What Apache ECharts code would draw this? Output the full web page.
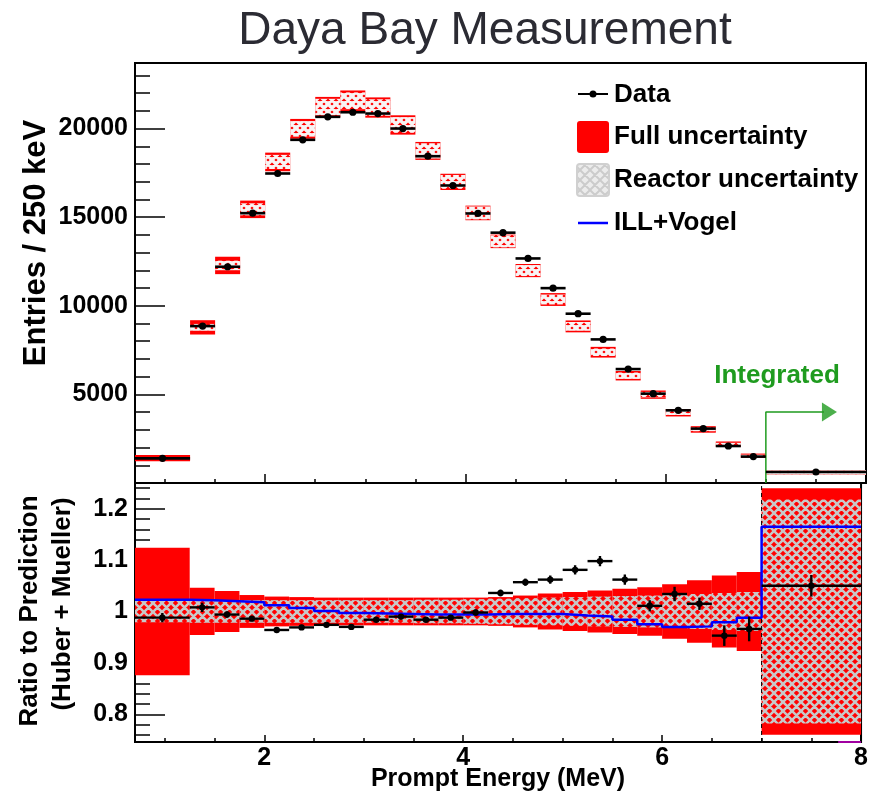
<!DOCTYPE html>
<html>
<head>
<meta charset="utf-8">
<script src="https://cdn.jsdelivr.net/npm/echarts@6/dist/echarts.min.js"></script>
<style>
html, body { margin: 0; padding: 0; background: #fff; }
#chart { width: 871px; height: 793px; }
</style>
</head>
<body>
<div id="chart"></div>
<script>
// bins (MeV): first bin 0.7-1.25, then 250 keV bins, last one integrated 7-8
var binEdges = [0.7, 1.25, 1.5, 1.75, 2.0, 2.25, 2.5, 2.75, 3.0, 3.25, 3.5, 3.75, 4.0, 4.25,
	4.5, 4.75, 5.0, 5.25, 5.5, 5.75, 6.0, 6.25, 6.5, 6.75, 7.0, 8.0];
// entries / 250 keV
var counts = [1390, 8853, 12203, 15226, 17465, 19365, 20662, 20921, 20848, 20002, 18440, 16788, 15209,
	14126, 12671, 10996, 9553, 8103, 6429, 5041, 4100, 3068, 2087, 1489, 620];
// data / prediction
var ratio = [0.988, 1.008, 0.994, 0.986, 0.964, 0.969, 0.974, 0.970, 0.984, 0.990, 0.984, 0.988, 0.998,
	1.036, 1.057, 1.062, 1.081, 1.098, 1.062, 1.011, 1.034, 1.015, 0.953, 0.966, 1.050];
var ratioErr = [0.009, 0.009, 0.006, 0.005, 0.005, 0.005, 0.005, 0.005, 0.005, 0.005, 0.005, 0.005, 0.006,
	0.0065, 0.007, 0.008, 0.009, 0.010, 0.010, 0.011, 0.014, 0.012, 0.020, 0.024, 0.021];
// relative uncertainties of the prediction
var fullUnc = [0.124, 0.046, 0.040, 0.032, 0.029, 0.028, 0.027, 0.027, 0.027, 0.027, 0.027, 0.027, 0.027,
	0.028, 0.031, 0.035, 0.038, 0.041, 0.044, 0.047, 0.053, 0.061, 0.070, 0.077, 0.240];
var reactorUnc = [0.021, 0.022, 0.022, 0.022, 0.022, 0.022, 0.022, 0.022, 0.022, 0.022, 0.023, 0.023, 0.024,
	0.025, 0.026, 0.027, 0.028, 0.029, 0.030, 0.031, 0.032, 0.034, 0.036, 0.038, 0.218];
// ILL+Vogel / Huber+Mueller
var illVogel = [1.023, 1.022, 1.020, 1.018, 1.012, 1.007, 1.001, 0.997, 0.996, 0.995, 0.994, 0.994, 0.994,
	0.995, 0.995, 0.995, 0.992, 0.990, 0.984, 0.975, 0.970, 0.971, 0.979, 0.988, 1.165];

var xMajor = [2, 4, 6, 8];
var xMinor = [1, 1.5, 2.5, 3, 3.5, 4.5, 5, 5.5, 6.5, 7, 7.5];
var yTopMajor = [5000, 10000, 15000, 20000];
var yTopMinor = [1000, 2000, 3000, 4000, 6000, 7000, 8000, 9000, 11000, 12000, 13000, 14000,
	16000, 17000, 18000, 19000, 21000, 22000, 23000];
var yBotMajor = [0.8, 0.9, 1, 1.1, 1.2];
var yBotMinor = [0.76, 0.78, 0.82, 0.84, 0.86, 0.88, 0.92, 0.94, 0.96, 0.98, 1.02, 1.04, 1.06, 1.08,
	1.12, 1.14, 1.16, 1.18, 1.22, 1.24];

var FONT = "'Liberation Sans', Arial, Helvetica, sans-serif";

function hatch(size, lw, color, bg) {
	var c = document.createElement('canvas');
	c.width = size;
	c.height = size;
	var g = c.getContext('2d');
	if (bg) {
		g.fillStyle = bg;
		g.fillRect(0, 0, size, size);
	}
	g.strokeStyle = color;
	g.lineWidth = lw;
	g.beginPath();
	for (var k = -1; k <= 1; k++) {
		g.moveTo(k * size, 0);
		g.lineTo(k * size + size, size);
		g.moveTo(k * size, size);
		g.lineTo(k * size + size, 0);
	}
	g.stroke();
	return c;
}
var hatchBottom = { image: hatch(9, 2.5, '#c8c8c8'), repeat: 'repeat' };
var hatchTop = { image: hatch(8, 3.4, '#f8f4f4'), repeat: 'repeat' };
var hatchLegend = { image: hatch(10, 2, '#cccccc', '#ececec'), repeat: 'repeat' };

// build the box / point tables
var topFull = [], topReac = [], botFull = [], botReac = [], topPts = [], botPts = [], ill = [];
for (var i = 0; i < counts.length; i++) {
	var x0 = binEdges[i], x1 = binEdges[i + 1];
	var pred = counts[i] / ratio[i];
	topFull.push([x0, x1, pred * (1 - fullUnc[i]), pred * (1 + fullUnc[i])]);
	topReac.push([x0, x1, pred * (1 - reactorUnc[i]), pred * (1 + reactorUnc[i])]);
	botFull.push([x0, x1, 1 - fullUnc[i], 1 + fullUnc[i]]);
	botReac.push([x0, x1, 1 - reactorUnc[i], 1 + reactorUnc[i]]);
	topPts.push([x0, x1, counts[i], 0]);
	botPts.push([x0, x1, ratio[i], ratioErr[i]]);
	ill.push([x0, illVogel[i]]);
}
ill.push([binEdges[binEdges.length - 1], illVogel[illVogel.length - 1]]);

function renderBox(fill) {
	return function(params, api) {
		var a = api.coord([api.value(0), api.value(3)]);
		var b = api.coord([api.value(1), api.value(2)]);
		return {
			type: 'rect',
			shape: { x: a[0], y: a[1], width: b[0] - a[0], height: b[1] - a[1] },
			style: { fill: fill }
		};
	};
}

function renderPoint(r, lw) {
	return function(params, api) {
		var x0 = api.value(0), x1 = api.value(1), y = api.value(2), e = api.value(3);
		var xc = (x0 + x1) / 2;
		var L = api.coord([x0, y]), R = api.coord([x1, y]), C = api.coord([xc, y]);
		var ch = [{
			type: 'line',
			shape: { x1: L[0], y1: L[1], x2: R[0], y2: R[1] },
			style: { stroke: '#000', lineWidth: lw }
		}];
		if (e > 0) {
			var T = api.coord([xc, y + e]), B = api.coord([xc, y - e]);
			ch.push({
				type: 'line',
				shape: { x1: T[0], y1: T[1], x2: B[0], y2: B[1] },
				style: { stroke: '#000', lineWidth: lw }
			});
		}
		ch.push({ type: 'circle', shape: { cx: C[0], cy: C[1], r: r }, style: { fill: '#000' } });
		return { type: 'group', children: ch };
	};
}

function xAx(grid, ticks, len, labels) {
	return {
		type: 'value', gridIndex: grid, min: 0.7, max: 8, position: 'bottom',
		axisLine: { show: labels !== null, lineStyle: { color: '#000', width: 2 } },
		splitLine: { show: false },
		axisTick: { show: true, inside: true, length: len, customValues: ticks, lineStyle: { color: '#000', width: 1.5 } },
		axisLabel: labels ? {
			show: true, customValues: labels, margin: 4, color: '#000',
			fontFamily: FONT, fontWeight: 'bold', fontSize: 25,
			formatter: function(v) { return String(v); }
		} : { show: false }
	};
}

function yAx(grid, min, max, ticks, len, labels) {
	return {
		type: 'value', gridIndex: grid, min: min, max: max, position: 'left',
		axisLine: { show: labels !== null, lineStyle: { color: '#000', width: 2 } },
		splitLine: { show: false },
		axisTick: { show: true, inside: true, length: len, customValues: ticks, lineStyle: { color: '#000', width: 1.5 } },
		axisLabel: labels ? {
			show: true, customValues: labels, margin: 7, color: '#000',
			fontFamily: FONT, fontWeight: 'bold', fontSize: 25,
			formatter: function(v) { return String(v); }
		} : { show: false }
	};
}

var chart = echarts.init(document.getElementById('chart'));
chart.setOption({
	animation: false,
	backgroundColor: '#fff',
	grid: [
		{ left: 135, top: 63, width: 731, height: 420, show: true, borderColor: '#000', borderWidth: 2, backgroundColor: 'transparent' },
		{ left: 135, top: 483, width: 731, height: 259, show: true, borderColor: '#000', borderWidth: 2, backgroundColor: 'transparent' }
	],
	xAxis: [
		xAx(0, xMajor, 9, false),
		xAx(0, xMinor, 4, null),
		xAx(1, xMajor, 7, xMajor),
		xAx(1, xMinor, 4, null)
	],
	yAxis: [
		yAx(0, 0, 23700, yTopMajor, 30, yTopMajor),
		yAx(0, 0, 23700, yTopMinor, 15, null),
		yAx(1, 0.746, 1.25, yBotMajor, 30, yBotMajor),
		yAx(1, 0.746, 1.25, yBotMinor, 15, null)
	],
	series: [
		// upper panel
		{ type: 'custom', xAxisIndex: 0, yAxisIndex: 0, z: 2, renderItem: renderBox('#ff0000'),
			encode: { x: [0, 1], y: [2, 3] }, data: topFull },
		{ type: 'custom', xAxisIndex: 0, yAxisIndex: 0, z: 3, renderItem: renderBox(hatchTop),
			encode: { x: [0, 1], y: [2, 3] }, data: topReac },
		{ type: 'custom', xAxisIndex: 0, yAxisIndex: 0, z: 5, renderItem: renderPoint(3.6, 2.6),
			encode: { x: [0, 1], y: 2 }, data: topPts },
		{ type: 'line', xAxisIndex: 0, yAxisIndex: 0, z: 4, symbol: 'none',
			lineStyle: { color: '#1f9b1f', width: 1.5 },
			data: [[7, 0], [7, 4000], [7.58, 4000]] },
		{ type: 'scatter', xAxisIndex: 0, yAxisIndex: 0, z: 4, symbol: 'triangle',
			symbolSize: [19, 15], symbolRotate: -90, itemStyle: { color: '#1f9b1f' },
			data: [[7.635, 4000]] },
		// lower panel
		{ type: 'custom', xAxisIndex: 2, yAxisIndex: 2, z: 2, renderItem: renderBox('#ff0000'),
			encode: { x: [0, 1], y: [2, 3] }, data: botFull },
		{ type: 'custom', xAxisIndex: 2, yAxisIndex: 2, z: 3, renderItem: renderBox(hatchBottom),
			encode: { x: [0, 1], y: [2, 3] }, data: botReac },
		{ type: 'line', xAxisIndex: 2, yAxisIndex: 2, z: 4, symbol: 'none',
			lineStyle: { color: '#000', width: 1, type: [4, 3] },
			data: [[7, 0.746], [7, 1.25]] },
		{ type: 'line', xAxisIndex: 2, yAxisIndex: 2, z: 4, step: 'end', symbol: 'none',
			lineStyle: { color: '#0000ff', width: 2.5 }, data: ill },
		{ type: 'custom', xAxisIndex: 2, yAxisIndex: 2, z: 5, renderItem: renderPoint(3.2, 2.4),
			encode: { x: [0, 1], y: 2 }, data: botPts },
		{ type: 'line', xAxisIndex: 2, yAxisIndex: 2, z: 6, symbol: 'none', clip: false,
			lineStyle: { color: '#a000a0', width: 2 }, data: [[7.77, 0.746], [8, 0.746]] }
	],
	graphic: [
		{ type: 'text', x: 485, y: 31, style: { text: 'Daya Bay Measurement', fill: '#2b2b33',
			font: '46px ' + FONT, textAlign: 'center', textVerticalAlign: 'middle' } },
		{ type: 'text', x: 36, y: 243, rotation: Math.PI / 2, style: { text: 'Entries / 250 keV', fill: '#000',
			font: 'bold 31px ' + FONT, textAlign: 'center', textVerticalAlign: 'middle' } },
		{ type: 'text', x: 30, y: 611, rotation: Math.PI / 2, style: { text: 'Ratio to Prediction', fill: '#000',
			font: 'bold 26px ' + FONT, textAlign: 'center', textVerticalAlign: 'middle' } },
		{ type: 'text', x: 63, y: 604, rotation: Math.PI / 2, style: { text: '(Huber + Mueller)', fill: '#000',
			font: 'bold 26px ' + FONT, textAlign: 'center', textVerticalAlign: 'middle' } },
		{ type: 'text', x: 498, y: 779, style: { text: 'Prompt Energy (MeV)', fill: '#000',
			font: 'bold 25px ' + FONT, textAlign: 'center', textVerticalAlign: 'middle' } },
		{ type: 'text', x: 777, y: 376, style: { text: 'Integrated', fill: '#1f9b1f',
			font: 'bold 26px ' + FONT, textAlign: 'center', textVerticalAlign: 'middle' } },
		// legend
		{ type: 'line', shape: { x1: 578, y1: 94, x2: 608, y2: 94 }, style: { stroke: '#000', lineWidth: 2 } },
		{ type: 'circle', shape: { cx: 593, cy: 94, r: 3.5 }, style: { fill: '#000' } },
		{ type: 'rect', shape: { x: 577, y: 121, width: 32, height: 32, r: 3 }, style: { fill: '#ff0000' } },
		{ type: 'rect', shape: { x: 577, y: 164, width: 32, height: 32, r: 3 },
			style: { fill: hatchLegend, stroke: '#d0d0d0', lineWidth: 2 } },
		{ type: 'line', shape: { x1: 578, y1: 223, x2: 608, y2: 223 }, style: { stroke: '#0000ff', lineWidth: 2.5 } },
		{ type: 'text', x: 614, y: 95, style: { text: 'Data', fill: '#000', font: 'bold 26px ' + FONT, textVerticalAlign: 'middle' } },
		{ type: 'text', x: 614, y: 137, style: { text: 'Full uncertainty', fill: '#000', font: 'bold 26px ' + FONT, textVerticalAlign: 'middle' } },
		{ type: 'text', x: 614, y: 180, style: { text: 'Reactor uncertainty', fill: '#000', font: 'bold 26px ' + FONT, textVerticalAlign: 'middle' } },
		{ type: 'text', x: 614, y: 223, style: { text: 'ILL+Vogel', fill: '#000', font: 'bold 26px ' + FONT, textVerticalAlign: 'middle' } }
	]
});
</script>
</body>
</html>
